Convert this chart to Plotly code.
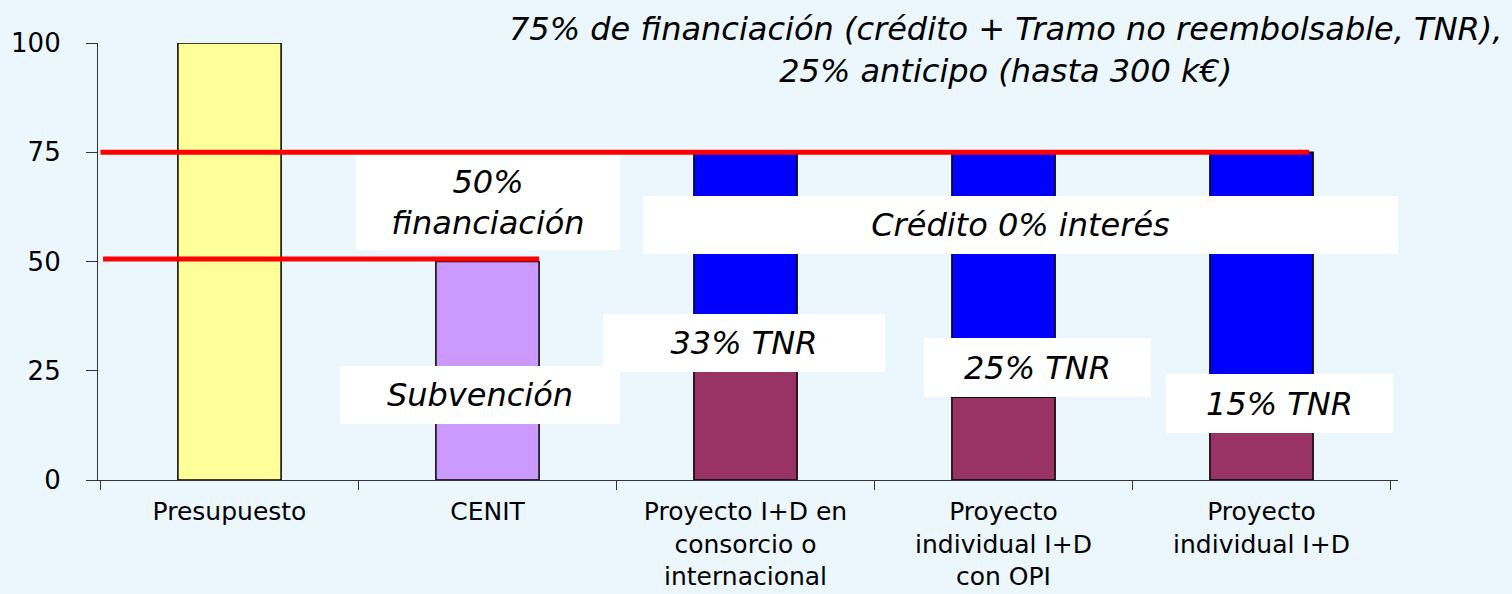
import plotly.graph_objects as go

# ---- data ----
categories = [
    "Presupuesto",
    "CENIT",
    "Proyecto I+D en<br>consorcio o<br>internacional",
    "Proyecto<br>individual I+D<br>con OPI",
    "Proyecto<br>individual I+D",
]
base_values = [100, 50, 25, 19, 11]          # yellow / purple / TNR part
base_colors = ["#FFFF99", "#CC99FF", "#993366", "#993366", "#993366"]
credit_top = [None, None, 75, 75, 75]         # top of blue "crédito" part
threshold_75 = 75
threshold_50 = 50.6
y_ticks = [0, 25, 50, 75, 100]

# label boxes: (text, category index, y value, xshift, width, height)
boxes = [
    ("50%<br>financiación", 1, 63.4, 0, 264, 95),
    ("Subvención", 1, 19.5, -8, 280, 58),
    ("Crédito 0% interés", 3, 58.4, 17, 755, 58),
    ("33% TNR", 2, 31.4, -2, 282, 58),
    ("25% TNR", 3, 25.8, 34, 227, 59),
    ("15% TNR", 4, 17.6, 18, 227, 59),
]
title_lines = "75% de financiación (crédito + Tramo no reembolsable, TNR),<br>25% anticipo (hasta 300 k€)"

BG = "#EBF6FD"
bar_w = 0.4

fig = go.Figure()
fig.add_trace(go.Bar(
    x=categories, y=base_values, marker=dict(color=base_colors, line=dict(color="#000", width=1.5)),
    width=bar_w, showlegend=False, hoverinfo="skip"))

cx = [c for c, t in zip(categories, credit_top) if t is not None]
cb = [b for b, t in zip(base_values, credit_top) if t is not None]
ct = [t for t in credit_top if t is not None]
fig.add_trace(go.Bar(
    x=cx, y=[t - b for t, b in zip(ct, cb)], base=cb,
    marker=dict(color="#0000FF", line=dict(color="#000", width=1.5)),
    width=bar_w, showlegend=False, hoverinfo="skip"))

# red threshold lines
fig.add_shape(type="line", xref="x", yref="y", x0=-0.5, x1=len(categories) - 1 + bar_w / 2 - 0.015,
              y0=threshold_75, y1=threshold_75, line=dict(color="#FF0000", width=5), layer="above")
fig.add_shape(type="line", xref="x", yref="y", x0=-0.49, x1=1 + bar_w / 2,
              y0=threshold_50, y1=threshold_50, line=dict(color="#FF0000", width=5), layer="above")

box_font = dict(family="DejaVu Sans", size=32, color="black", style="italic")
for text, ci, yv, xs, w, h in boxes:
    fig.add_annotation(x=categories[ci], y=yv, xref="x", yref="y", text=text, showarrow=False,
                       xanchor="center", yanchor="middle", xshift=xs, width=w, height=h,
                       bgcolor="white", borderpad=0, borderwidth=0, align="center", valign="middle",
                       font=box_font)

fig.add_annotation(x=0.6978, y=0.983, xref="paper", yref="paper", text=title_lines, showarrow=False,
                   xanchor="center", yanchor="middle", align="center", font=box_font)

fig.update_layout(
    width=1512, height=594,
    margin=dict(l=98, r=114, t=43, b=114),
    paper_bgcolor=BG, plot_bgcolor=BG,
    barmode="overlay", bargap=0.6,
    font=dict(family="DejaVu Sans", color="black"),
)
fig.update_xaxes(
    showline=True, linecolor="#333", linewidth=1.2, automargin=False,
    ticks="outside", tickson="boundaries", ticklen=9, tickcolor="#333",
    tickfont=dict(family="DejaVu Sans", size=25, color="black"),
    showgrid=False, zeroline=False, ticklabelstandoff=9,
)
fig.update_yaxes(
    range=[0, 100], tickvals=y_ticks, showline=True, linecolor="#333", linewidth=1.2,
    ticks="outside", ticklen=11, tickcolor="#333", automargin=False,
    tickfont=dict(family="DejaVu Sans", size=26, color="black"),
    showgrid=False, zeroline=False, ticklabelstandoff=20,
)

fig.write_html("out.html")
